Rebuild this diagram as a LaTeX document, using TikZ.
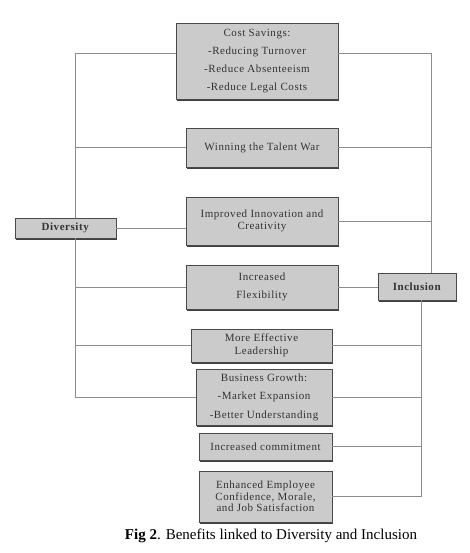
\documentclass[tikz,border=0pt]{standalone}
\usepackage{fontspec}
\setmainfont{Liberation Serif}
\newfontfamily\boxfont[LetterSpace=5]{Liberation Serif}
\usetikzlibrary{shadows}
\definecolor{boxfill}{HTML}{CBCBCB}
\definecolor{boxline}{HTML}{4A4A4A}
\definecolor{boxtext}{HTML}{333333}
\definecolor{conn}{HTML}{8C8C8C}
\tikzset{
  box/.style={draw=boxline, fill=boxfill, line width=0.8pt, text=boxtext,
    align=center, inner sep=0pt,
    general shadow={fill=black!75, shadow xshift=0.9pt, shadow yshift=-1.8pt}},
  fs/.style={font=\boxfont\fontsize{11}{#1}\selectfont},
  link/.style={draw=conn, line width=0.7pt},
}
\begin{document}
\begin{tikzpicture}[x=1pt,y=-1pt]
\useasboundingbox (0,0) rectangle (469,553);
% boxes
\node[box, fs=17.7, minimum width=162pt, minimum height=76pt] (cost) at (257,61)
  {Cost Savings:\\-Reducing Turnover\\-Reduce Absenteeism\\-Reduce Legal Costs};
\node[box, fs=13, minimum width=152pt, minimum height=39pt] (win) at (262,147.5)
  {Winning the Talent War};
\node[box, fs=12.5, minimum width=152pt, minimum height=48pt] (innov) at (262,221)
  {Improved Innovation and\\Creativity};
\node[box, fs=18, minimum width=152pt, minimum height=44pt] (flex) at (262,287)
  {Increased\\Flexibility};
\node[box, fs=12.5, minimum width=141pt, minimum height=33pt] (lead) at (261.5,345.5)
  {More Effective\\Leadership};
\node[box, fs=18.5, minimum width=136pt, minimum height=56pt] (bus) at (264,397)
  {Business Growth:\\-Market Expansion\\-Better Understanding};
\node[box, fs=13, minimum width=133pt, minimum height=27pt] (comm) at (265.5,446.5)
  {Increased commitment};
\node[box, fs=11.5, minimum width=133pt, minimum height=51pt] (enh) at (265.5,496.5)
  {Enhanced Employee\\Confidence, Morale,\\and Job Satisfaction};
\node[box, fs=13, minimum width=101pt, minimum height=20pt] (div) at (65.5,228)
  {\textbf{Diversity}};
\node[box, fs=13, minimum width=78pt, minimum height=27pt] (incl) at (417,286.5)
  {\textbf{Inclusion}};
% caption
\node[font=\fontsize{15}{18}\selectfont, inner sep=0pt] (cap) at (271,536)
  {\textbf{Fig 2}. Benefits linked to Diversity and Inclusion};
% rails
\coordinate (lx) at (75,0);
\coordinate (rx) at (431,0);
\coordinate (rx2) at (421,0);
\coordinate (ctop) at (0,53);
% left side
\draw[link] (cost.west |- ctop) -- (lx |- ctop) -- (lx |- div.north);
\draw[link] (lx |- div.south) -- (lx |- bus.west) -- (bus.west);
\draw[link] (win.west) -- (lx |- win.west);
\draw[link] (div.east) -- (innov.west |- div.east);
\draw[link] (flex.west) -- (lx |- flex.west);
\draw[link] (lead.west) -- (lx |- lead.west);
% right side
\draw[link] (cost.east |- ctop) -- (rx |- ctop) -- (rx |- incl.north);
\draw[link] (win.east) -- (rx |- win.east);
\draw[link] (innov.east) -- (rx |- innov.east);
\draw[link] (flex.east) -- (incl.west |- flex.east);
\draw[link] (rx2 |- incl.south) -- (rx2 |- enh.east) -- (enh.east);
\draw[link] (lead.east) -- (rx2 |- lead.east);
\draw[link] (bus.east) -- (rx2 |- bus.east);
\draw[link] (comm.east) -- (rx2 |- comm.east);
\end{tikzpicture}
\end{document}
